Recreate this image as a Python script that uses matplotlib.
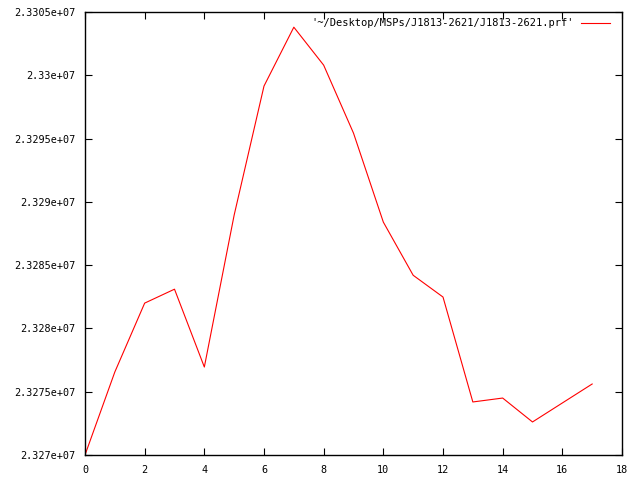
import matplotlib
matplotlib.use('Agg')
import matplotlib.pyplot as plt
from matplotlib.ticker import MultipleLocator, FuncFormatter

# datos del perfil
fase = list(range(18))
valores = [23270000, 23276560, 23282000, 23283100, 23276950, 23288960,
           23299150, 23303800, 23300800, 23295430, 23288400, 23284200,
           23282480, 23274190, 23274500, 23272610, 23274110, 23275610]
etiqueta = "'~/Desktop/MSPs/J1813-2621/J1813-2621.prf'"

plt.rcParams['font.family'] = ['DejaVu Sans Mono']
plt.rcParams['font.size'] = 7.3

fig = plt.figure(figsize=(6.4, 4.8), dpi=100)
ax = fig.add_axes([85/640, 1 - 455/480, (622 - 85)/640, (455 - 12)/480])

ax.plot(fase, valores, color='red', linewidth=0.8, label=etiqueta)

ax.set_xlim(0, 18)
ax.set_ylim(23270000, 23305000)
ax.xaxis.set_major_locator(MultipleLocator(2))
ax.yaxis.set_major_locator(MultipleLocator(5000))
ax.yaxis.set_major_formatter(FuncFormatter(lambda v, p: '%g' % v))
ax.tick_params(direction='in', length=5, width=0.8, top=True, right=True,
               labelsize=7.3, pad=7)
for s in ax.spines.values():
    s.set_linewidth(1.0)

ax.legend(loc='upper right', frameon=False, markerfirst=False,
          handlelength=2.8, handletextpad=0.7, borderaxespad=0.2,
          fontsize=7.5, bbox_to_anchor=(0.99, 1.0))

fig.savefig('out.png', dpi=100)
